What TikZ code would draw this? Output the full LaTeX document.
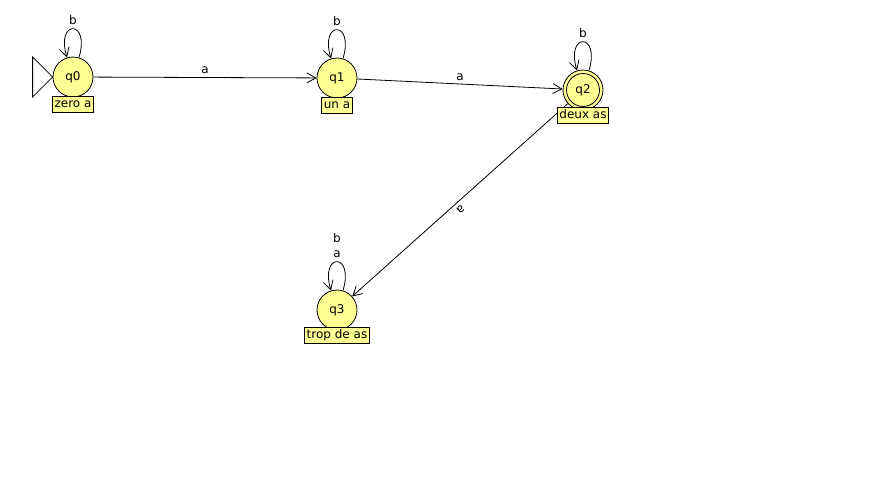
\documentclass[tikz,border=0pt]{standalone}
\usepackage{fontspec}
\setmainfont{DejaVu Sans}
\usetikzlibrary{positioning, arrows.meta}
\definecolor{jaune}{RGB}{255,255,150}

\begin{document}
\begin{tikzpicture}[x=1pt,y=1pt,font=\fontsize{12}{14}\selectfont,line width=0.8pt,
    etat/.style={circle,draw,fill=jaune,minimum size=40pt,inner sep=0pt},
    note/.style={draw,fill=jaune,inner xsep=2pt,inner ysep=2pt,text height=9pt,text depth=3pt},
    fleche/.style={-{Straight Barb[length=9pt,width=10pt]}},
    boucle/.style={fleche,out=73,in=107,distance=40pt}]
    \useasboundingbox (0,0) rectangle (869,-480);

    \node[etat] (q0) at (73,-77) {q0};
    \node[etat] (q1) at (337,-78) {q1};
    \node[etat] (q2) at (583,-90) {q2};
    \node[etat] (q3) at (337,-310) {q3};
    \draw (q2) circle (16.5);%etat final

    % etat initial
    \draw (q0.west) -- ++(-20,20) -- ++(0,-40) -- cycle;

    \draw[fleche] (q0) -- node[above]{a} (q1);
    \draw[fleche] (q1) -- node[above]{a} (q2);
    \draw[fleche] (q2) -- node[sloped,allow upside down,above,pos=0.52]{a} (q3);
    \foreach\Q in{q0,q1,q2}
        \draw (\Q) edge[boucle] node[above]{b} (\Q);
    \draw (q3) edge[boucle] node[above,align=center,font=\fontsize{12}{15}\selectfont]{b\\a} (q3);

    \node[note,below=-1pt of q0] (n0) {zero a};
    \node[note,below=-1pt of q1] (n1) {un a};
    \node[note,below=-3pt of q2] (n2) {deux as};
    \node[note,below=-3pt of q3] (n3) {trop de as};
\end{tikzpicture}
\end{document}
